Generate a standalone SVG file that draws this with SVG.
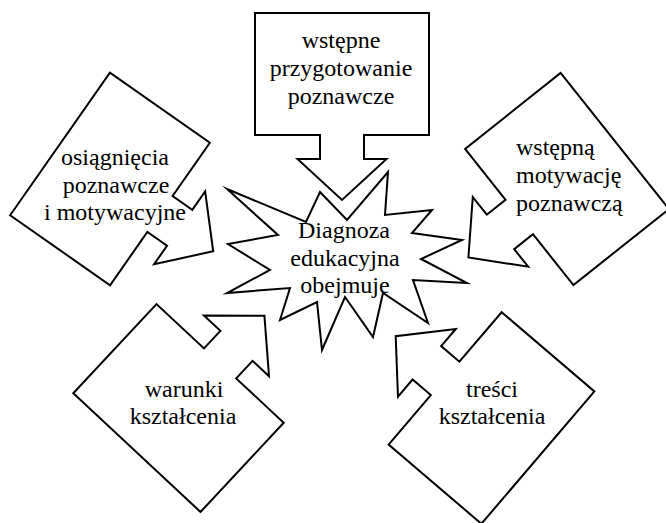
<svg xmlns="http://www.w3.org/2000/svg" width="666" height="523" viewBox="0 0 666 523" xml:lang="pl">
<defs>
<path id="callout" d="M-87,-61 H87 V61 H22 V85 H44.5 L0,126 L-44.5,85 H-22 V61 H-87 Z"/>
</defs>
<rect width="666" height="523" fill="#fff"/>
<g fill="#fff" stroke="#000" stroke-width="2" stroke-linejoin="miter" stroke-miterlimit="12">
<g id="star">
<polygon points="227,189 306,222 320,192 347,220 388,172 385,215 432,210 412,233 462,240 421,259 467,283 413,280 428,323 383,293 373,337 345,297 322,350 317,302 280,320 290,288 227,293 270,270 228,244 278,235"/>
</g>
<g id="shape-top"><use href="#callout" transform="translate(342,74)"/></g>
<g id="shape-left"><use href="#callout" transform="translate(110,179) rotate(-55)"/></g>
<g id="shape-right"><use href="#callout" transform="translate(567,179) rotate(51.5)"/></g>
<g id="shape-lower-left"><use href="#callout" transform="translate(178.5,408) rotate(-137)"/></g>
<g id="shape-lower-right"><use href="#callout" transform="translate(491.5,418) rotate(130.5)"/></g>
</g>
<g id="node-top">
<text x="341" y="48" font-size="24" font-family="Times New Roman, Liberation Serif, Tinos, serif" text-anchor="middle">wstępne</text>
<text x="341" y="76" font-size="24" font-family="Times New Roman, Liberation Serif, Tinos, serif" text-anchor="middle">przygotowanie</text>
<text x="341" y="104" font-size="24" font-family="Times New Roman, Liberation Serif, Tinos, serif" text-anchor="middle">poznawcze</text>
</g>
<g id="node-left">
<text x="115" y="165" font-size="24" font-family="Times New Roman, Liberation Serif, Tinos, serif" text-anchor="middle">osiągnięcia</text>
<text x="116" y="193" font-size="24" font-family="Times New Roman, Liberation Serif, Tinos, serif" text-anchor="middle">poznawcze</text>
<text x="115" y="220" font-size="24" font-family="Times New Roman, Liberation Serif, Tinos, serif" text-anchor="middle">i motywacyjne</text>
</g>
<g id="node-right">
<text x="516" y="155" font-size="24" font-family="Times New Roman, Liberation Serif, Tinos, serif">wstępną</text>
<text x="516" y="183" font-size="24" font-family="Times New Roman, Liberation Serif, Tinos, serif">motywację</text>
<text x="516" y="211" font-size="24" font-family="Times New Roman, Liberation Serif, Tinos, serif">poznawczą</text>
</g>
<g id="node-lower-left">
<text x="184" y="397" font-size="24" font-family="Times New Roman, Liberation Serif, Tinos, serif" text-anchor="middle">warunki</text>
<text x="183" y="424" font-size="24" font-family="Times New Roman, Liberation Serif, Tinos, serif" text-anchor="middle">kształcenia</text>
</g>
<g id="node-lower-right">
<text x="492" y="397" font-size="24" font-family="Times New Roman, Liberation Serif, Tinos, serif" text-anchor="middle">treści</text>
<text x="492" y="424" font-size="24" font-family="Times New Roman, Liberation Serif, Tinos, serif" text-anchor="middle">kształcenia</text>
</g>
<g id="node-center">
<text x="344" y="238" font-size="24" font-family="Times New Roman, Liberation Serif, Tinos, serif" text-anchor="middle">Diagnoza</text>
<text x="345" y="266" font-size="24" font-family="Times New Roman, Liberation Serif, Tinos, serif" text-anchor="middle">edukacyjna</text>
<text x="345" y="293" font-size="24" font-family="Times New Roman, Liberation Serif, Tinos, serif" text-anchor="middle">obejmuje</text>
</g>
</svg>
